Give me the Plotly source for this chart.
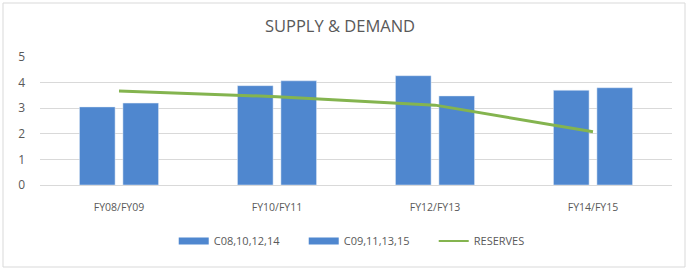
import plotly.graph_objects as go

categories = ["FY08/FY09", "FY10/FY11", "FY12/FY13", "FY14/FY15"]
series_a_name = "C08,10,12,14"
series_a = [3.05, 3.88, 4.27, 3.7]
series_b_name = "C09,11,13,15"
series_b = [3.2, 4.07, 3.48, 3.8]
reserves_name = "RESERVES"
reserves = [3.67, 3.45, 3.12, 2.08]
y_ticks = [0, 1, 2, 3, 4, 5]

bar_color = "#4f87cf"
line_color = "#84b44f"
text_color = "#595959"
font_family = "Open Sans, Liberation Sans, sans-serif"

fig = go.Figure()
fig.add_trace(go.Bar(x=categories, y=series_a, name=series_a_name, marker_color=bar_color,
                     showlegend=False, legendgroup="a"))
fig.add_trace(go.Bar(x=categories, y=series_b, name=series_b_name, marker_color=bar_color,
                     showlegend=False, legendgroup="b"))
fig.add_trace(go.Scatter(x=categories, y=reserves, name=reserves_name, mode="lines",
                         line=dict(color=line_color, width=3), showlegend=False, legendgroup="c"))
# legend entries styled like the reference (wide rectangles / line)
fig.add_trace(go.Scatter(x=[None], y=[None], name=series_a_name, mode="lines",
                         line=dict(color=bar_color, width=7), legendgroup="a"))
fig.add_trace(go.Scatter(x=[None], y=[None], name=series_b_name, mode="lines",
                         line=dict(color=bar_color, width=7), legendgroup="b"))
fig.add_trace(go.Scatter(x=[None], y=[None], name=reserves_name, mode="lines",
                         line=dict(color=line_color, width=2), legendgroup="c"))

fig.update_layout(
    width=690, height=270,
    margin=dict(l=40, r=18, t=57, b=85, autoexpand=False),
    paper_bgcolor="white", plot_bgcolor="white",
    barmode="group", bargap=0.45, bargroupgap=0.18,
    font=dict(family=font_family, color=text_color, size=11),
    title=dict(text="SUPPLY & DEMAND", x=340 / 690, xanchor="center", y=1 - 26 / 270, yanchor="middle",
               font=dict(size=16.5, color=text_color, family=font_family)),
    showlegend=True,
    legend=dict(orientation="h", x=146 / 690, xanchor="left", yref="container",
                y=(270 - 241) / 270, yanchor="middle", entrywidth=85, entrywidthmode="pixels",
                font=dict(size=11, color=text_color), traceorder="normal"),
)
fig.update_xaxes(showgrid=False, showline=True, linecolor="#d9d9d9", ticks="",
                 ticklabelstandoff=12, tickfont=dict(size=10.5, color=text_color))
fig.update_yaxes(range=[0, 5], tickvals=y_ticks, showgrid=True, gridcolor="#d9d9d9",
                 zeroline=False, showline=False, ticks="", ticklabelstandoff=14,
                 tickfont=dict(size=12, color=text_color))

# outer chart border in paper coordinates
pw, ph = 690 - 40 - 18, 270 - 57 - 85
fig.add_shape(type="rect", xref="paper", yref="paper",
              x0=(3 - 40) / pw, x1=(685 - 40) / pw,
              y0=(270 - 85 - 267) / ph, y1=(270 - 85 - 3) / ph,
              line=dict(color="#d9d9d9", width=1), layer="below")

fig.write_html("out.html")
